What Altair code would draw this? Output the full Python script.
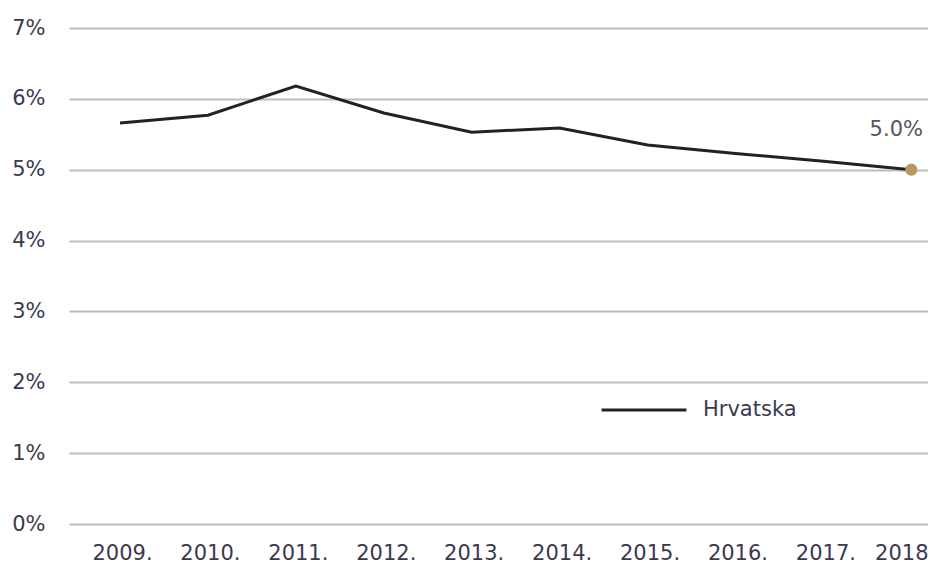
import altair as alt
import pandas as pd

years = [2009, 2010, 2011, 2012, 2013, 2014, 2015, 2016, 2017, 2018]
values = [5.66, 5.77, 6.18, 5.80, 5.53, 5.59, 5.35, 5.23, 5.12, 5.00]
series = "Hrvatska"
last_label = "5.0%"

df = pd.DataFrame({"year": years, "value": values, "series": [series] * len(years)})
last = df.tail(1).assign(label=last_label)

FONT = "DejaVu Sans"
TXT = "#3a3a4e"
FS = 21

x = alt.X(
    "year:Q",
    scale=alt.Scale(domain=[2008.42, 2018.19], nice=False, zero=False),
    axis=alt.Axis(
        values=years,
        labelExpr="datum.value == 2018 ? '2018' : datum.value + '.'",
        grid=False, domain=False, ticks=False,
        labelFontSize=FS, labelColor=TXT, labelFont=FONT, labelPadding=18,
        labelOffset={"condition": {"test": "datum.value == 2018", "value": -10}, "value": 2},
        title=None,
    ),
)
y = alt.Y(
    "value:Q",
    scale=alt.Scale(domain=[0, 7], nice=False),
    axis=alt.Axis(
        values=[0, 1, 2, 3, 4, 5, 6, 7],
        labelExpr="datum.value + '%'",
        grid=True, gridColor="#bdbdbd", gridWidth=2,
        domain=False, ticks=False,
        labelFontSize=FS, labelColor=TXT, labelFont=FONT, labelPadding=24,
        title=None,
    ),
)

line = alt.Chart(df).mark_line(strokeWidth=3).encode(
    x=x, y=y,
    color=alt.Color(
        "series:N",
        scale=alt.Scale(domain=[series], range=["#222222"]),
        legend=alt.Legend(
            orient="none", legendX=531, legendY=338, title=None,
            symbolType="stroke", symbolSize=7200, symbolStrokeWidth=3,
            labelFontSize=FS, labelColor=TXT, labelFont=FONT, labelOffset=15,
        ),
    ),
)

pt = alt.Chart(last).mark_circle(size=150, color="#b39b5e", opacity=1).encode(x=x, y=y)
txt = alt.Chart(last).mark_text(
    dy=-40, dx=-15, fontSize=FS, color="#555560", font=FONT
).encode(x=x, y=y, text="label:N")

chart = (line + pt + txt).properties(
    width=859, height=496,
    autosize=alt.AutoSizeParams(type="none"),
    padding={"left": 61, "top": 20, "right": 0, "bottom": 40},
).configure(background="white").configure_view(stroke=None)

chart.save("out.html", embed_options={"renderer": "svg", "actions": False})
